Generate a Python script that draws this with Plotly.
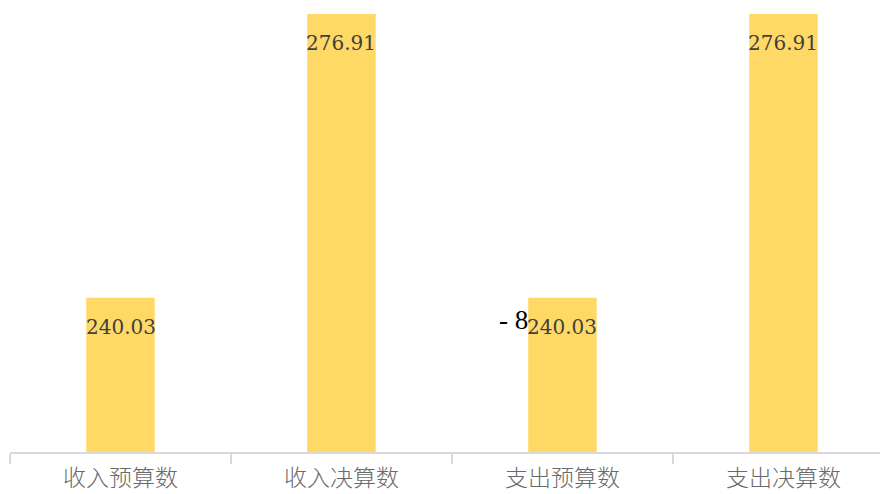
import plotly.graph_objects as go

categories = ["收入预算数", "收入决算数", "支出预算数", "支出决算数"]
values = [240.03, 276.91, 240.03, 276.91]
value_labels = ["%.2f" % v for v in values]
stray_label = "- 8"

fig = go.Figure()
fig.add_trace(go.Bar(
    x=categories, y=values,
    marker=dict(color="#FFD966", line=dict(width=0)),
    width=0.31,
    hoverinfo="skip",
))

for c, v, t in zip(categories, values, value_labels):
    fig.add_annotation(x=c, y=v, text=t, showarrow=False, yshift=-29,
                       xanchor="center", yanchor="middle",
                       font=dict(family="DejaVu Serif", size=20, color="#404040"))

fig.add_annotation(x=categories[2], y=values[2], text=stray_label, showarrow=False,
                   xanchor="right", yanchor="middle", xshift=-32, yshift=-22,
                   font=dict(family="Liberation Serif", size=27, color="#000000"))

fig.update_layout(
    width=880, height=486,
    margin=dict(l=2, r=0, t=0, b=42, autoexpand=False),
    paper_bgcolor="white", plot_bgcolor="white",
    showlegend=False,
    xaxis=dict(
        type="category", range=[-0.5, 3.473],
        tickson="boundaries", ticks="outside", ticklen=10, tickcolor="#d9d9d9", tickwidth=1.5,
        showline=True, linecolor="#d9d9d9", linewidth=1.5,
        showgrid=False, zeroline=False, automargin=False,
        tickfont=dict(family="Noto Sans CJK SC", size=23, color="#6a6a6a", weight=300),
        ticklabelstandoff=5,
    ),
    yaxis=dict(range=[220, 277.69], visible=False, showgrid=False, zeroline=False),
)

fig.write_html("out.html")
